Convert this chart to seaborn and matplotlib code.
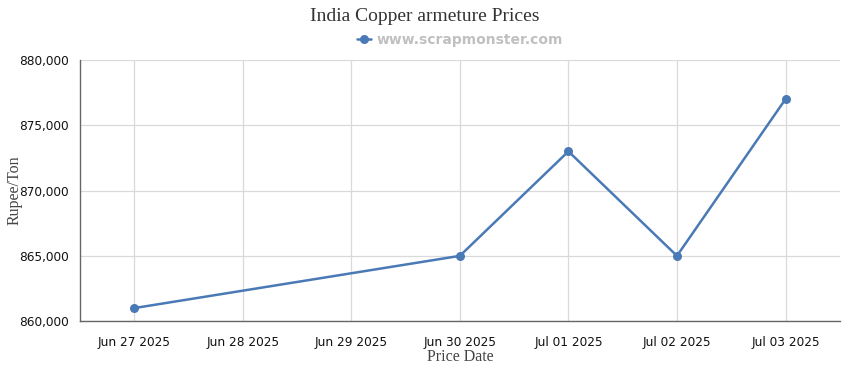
import pandas as pd
import matplotlib
matplotlib.use("Agg")
import matplotlib.pyplot as plt
import matplotlib.dates as mdates
import seaborn as sns

# --- data ---
dates = ["2025-06-27", "2025-06-30", "2025-07-01", "2025-07-02", "2025-07-03"]
prices = [861000, 865000, 873000, 865000, 877000]
series_name = "www.scrapmonster.com"
title = "India Copper armeture Prices"
x_label = "Price Date"
y_label = "Rupee/Ton"

line_color = "#4a7ab5"

df = pd.DataFrame({"date": pd.to_datetime(dates), "price": prices})

sns.set_style("white")
plt.rcParams["font.family"] = ["DejaVu Sans"]

fig = plt.figure(figsize=(8.5, 3.7), dpi=100)
ax = fig.add_axes([0.094, 0.132, 0.894, 0.706])

sns.lineplot(data=df, x="date", y="price", ax=ax, color=line_color,
             linewidth=1.8, marker="o", markersize=6.5, markeredgewidth=0,
             label=series_name)

# axes limits: half a day of padding on each side
start = pd.Timestamp("2025-06-27") - pd.Timedelta(hours=12)
end = pd.Timestamp("2025-07-03") + pd.Timedelta(hours=12)
ax.set_xlim(start, end)
ax.set_ylim(860000, 880000)

ax.xaxis.set_major_locator(mdates.DayLocator())
ax.xaxis.set_major_formatter(mdates.DateFormatter("%b %d %Y"))
ax.yaxis.set_major_locator(plt.MultipleLocator(5000))
ax.yaxis.set_major_formatter(plt.FuncFormatter(lambda v, p: f"{int(v):,}"))

ax.grid(True, color="#d9d9d9", linewidth=0.9)
ax.set_axisbelow(True)
for side in ["top", "right"]:
    ax.spines[side].set_visible(False)
for side in ["left", "bottom"]:
    ax.spines[side].set_color("#666666")
    ax.spines[side].set_linewidth(1.0)

ax.tick_params(axis="both", which="major", direction="out", length=5,
               color="#666666", labelsize=8.7, labelcolor="#111111", pad=3)
ax.tick_params(axis="x", pad=6)

serif = ["Liberation Serif", "DejaVu Serif"]
ax.set_xlabel(x_label, family=serif, fontsize=11.5, color="#444444", labelpad=0)
ax.set_ylabel(y_label, family=serif, fontsize=11.5, color="#444444")
ax.yaxis.set_label_coords(-0.076, 0.5)
fig.text(0.5, 0.955, title, ha="center", va="center", family=serif,
         fontsize=14, color="#333333")

leg = ax.legend(loc="center", bbox_to_anchor=(0.5, 1.075), frameon=False,
                handlelength=1.0, handletextpad=0.4,
                prop={"weight": "bold", "size": 10})
for txt in leg.get_texts():
    txt.set_color("#c0c0c0")

fig.savefig("out.png", dpi=100)
